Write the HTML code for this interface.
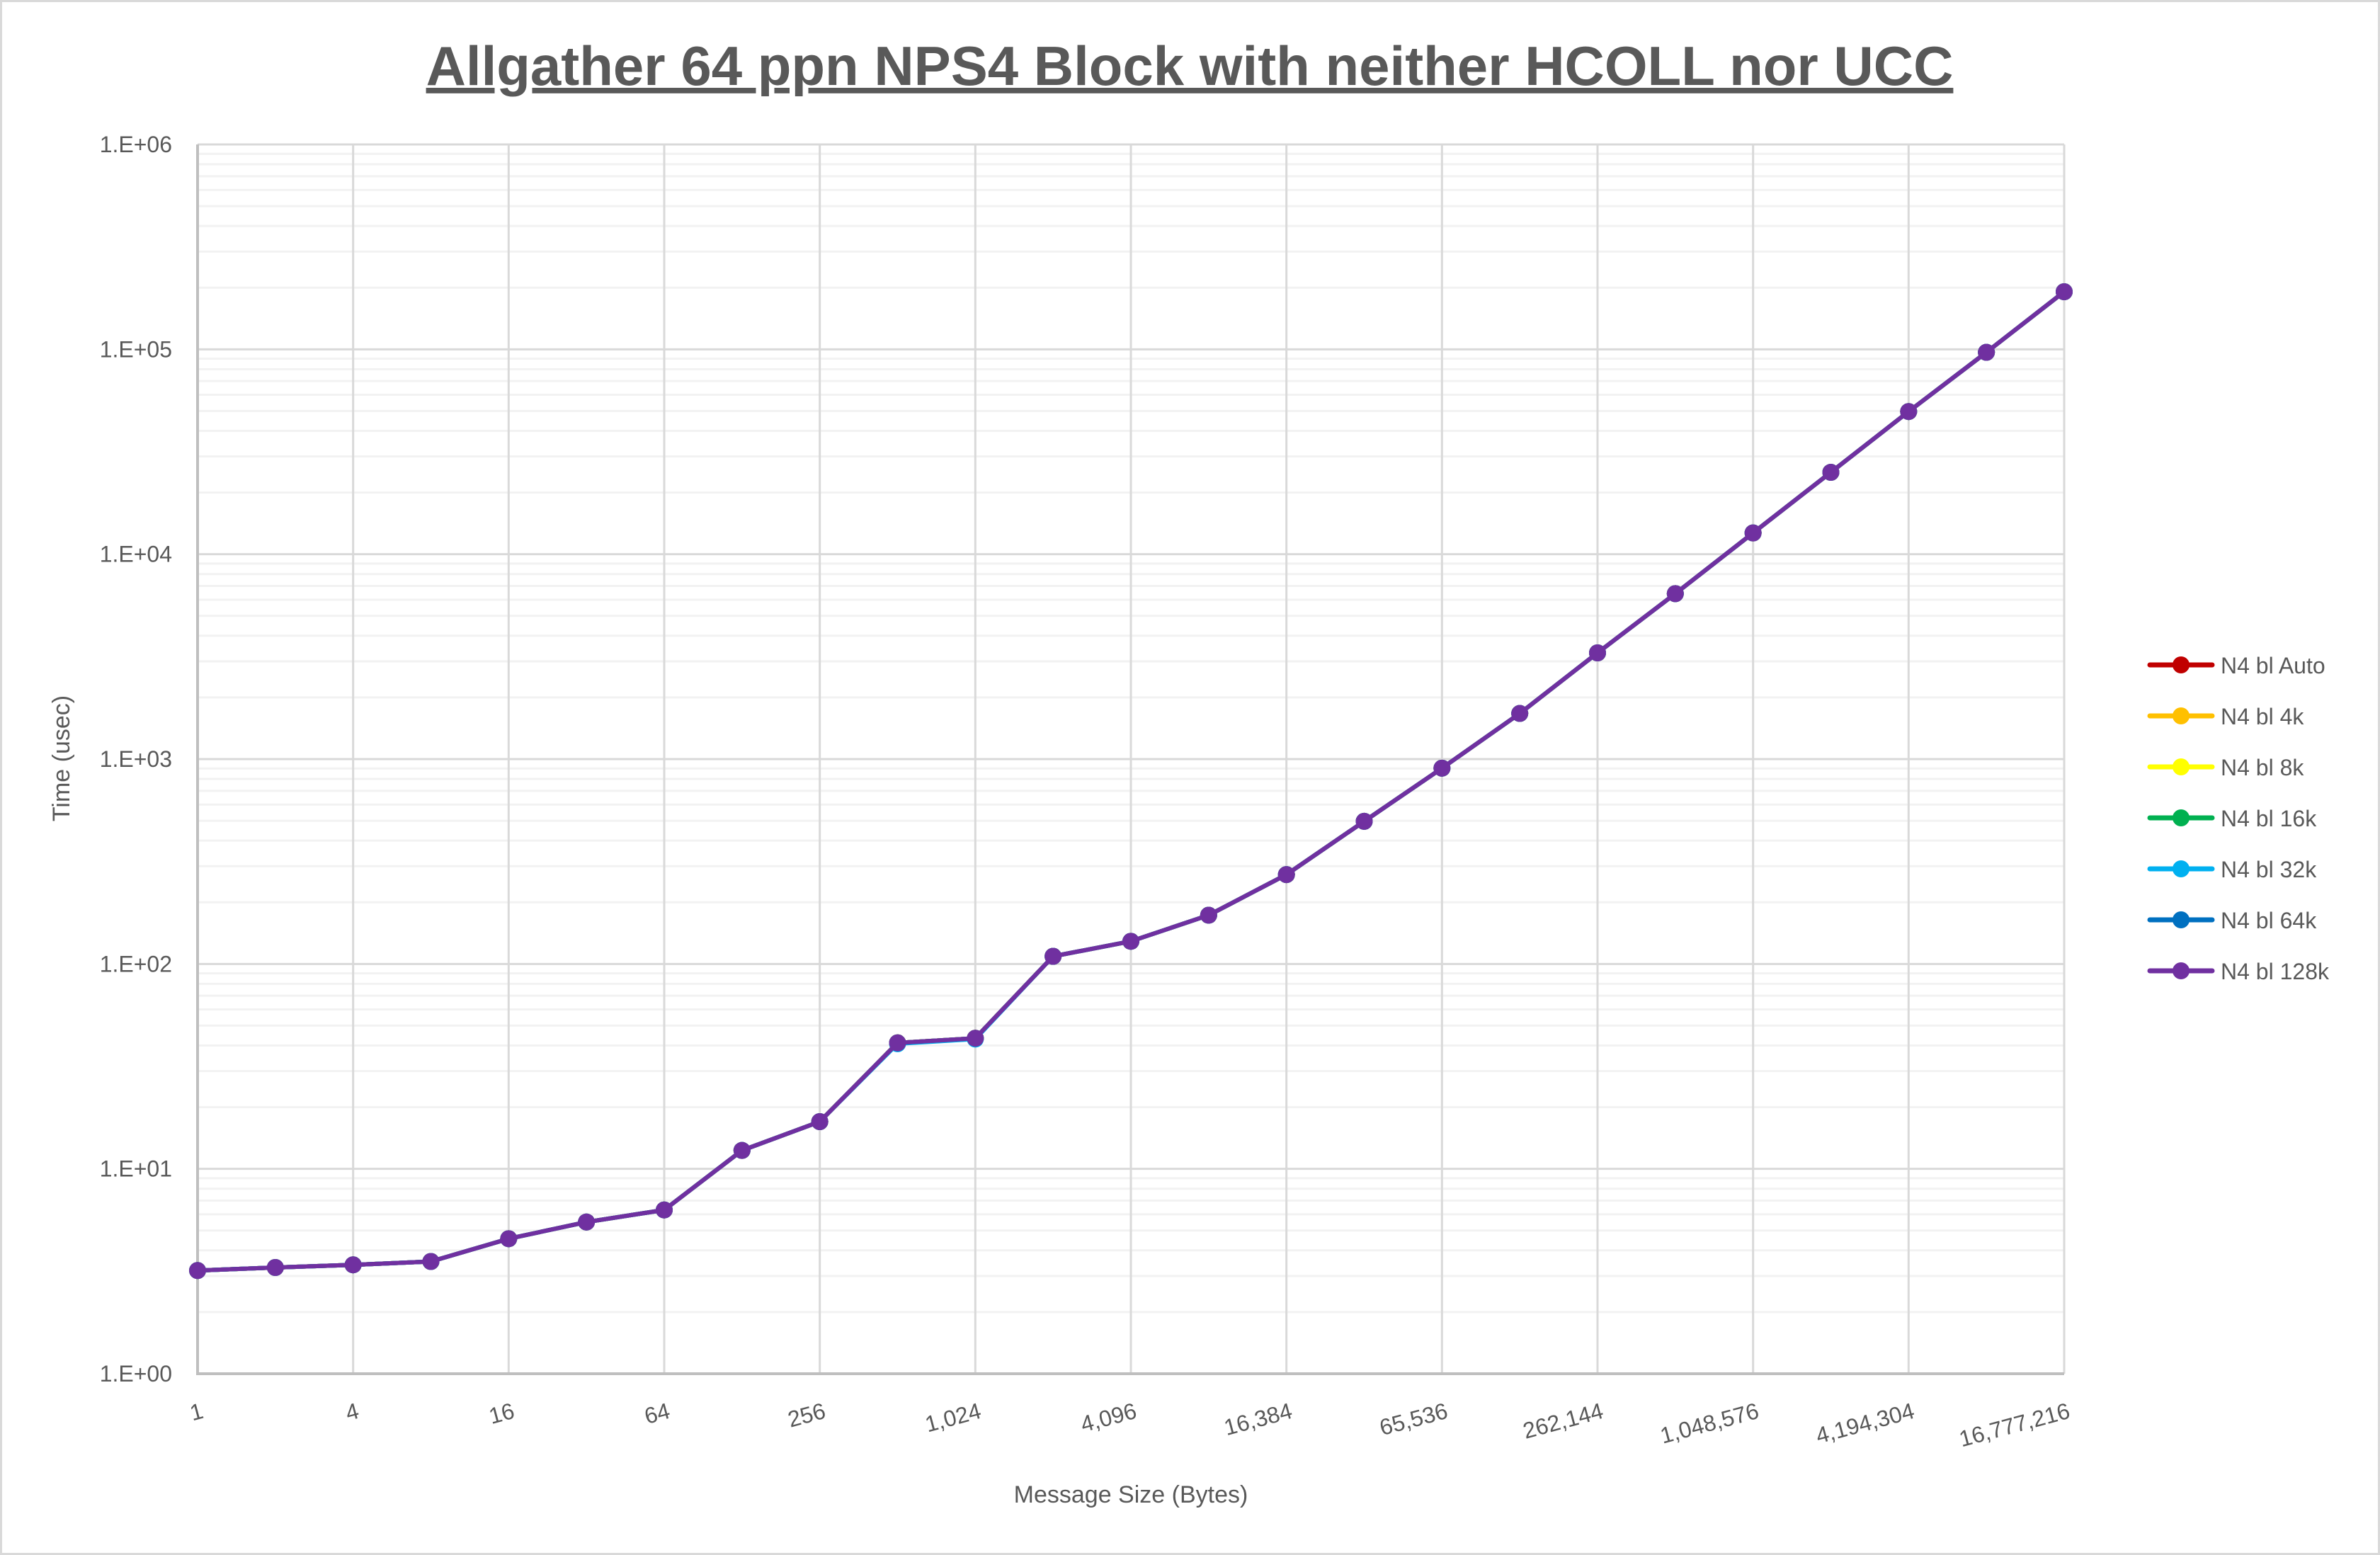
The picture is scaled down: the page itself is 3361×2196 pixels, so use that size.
<!DOCTYPE html>
<html><head><meta charset="utf-8"><style>
html,body{margin:0;padding:0;background:#fff;}
svg{display:block;font-family:"Liberation Sans",sans-serif;}
</style></head><body>
<svg id="chart" width="3361" height="2196" viewBox="0 0 3361 2196">
<rect x="1.5" y="1.5" width="3358" height="2193" fill="#fff" stroke="#d9d9d9" stroke-width="3"/>
<text x="1680" y="120" text-anchor="middle" font-size="78" font-weight="bold" fill="#595959" text-decoration="underline">Allgather 64 ppn NPS4 Block with neither HCOLL nor UCC</text>
<g id="grid"></g>
<g id="axes"></g>
<g id="series"></g>
<text transform="translate(98,1071) rotate(-90)" text-anchor="middle" font-size="34" fill="#595959">Time (usec)</text>
<text x="1597" y="2122" text-anchor="middle" font-size="34" fill="#595959">Message Size (Bytes)</text>
<g id="legend"></g>
</svg>
<script>
const categories = ["1","2","4","8","16","32","64","128","256","512","1,024","2,048","4,096","8,192","16,384","32,768","65,536","131,072","262,144","524,288","1,048,576","2,097,152","4,194,304","8,388,608","16,777,216"];
const yTickLabels = ["1.E+00","1.E+01","1.E+02","1.E+03","1.E+04","1.E+05","1.E+06"];
const seriesNames = ["N4 bl Auto","N4 bl 4k","N4 bl 8k","N4 bl 16k","N4 bl 32k","N4 bl 64k","N4 bl 128k"];
const seriesColors = ["#c00000","#ffc000","#ffff00","#00b050","#00b0f0","#0070c0","#7030a0"];
const valsAuto = [3.19,3.30,3.40,3.53,4.56,5.5,6.3,12.3,17,41.2,43.4,109,129,173,273,497,903,1670,3300,6420,12700,25100,49700,96700,191000];
const vals4k   = [3.19,3.30,3.40,3.53,4.56,5.5,6.3,12.3,17,41.2,43.4,109,129,173,273,497,903,1670,3300,6420,12700,25100,49700,96700,191000];
const vals8k   = [3.19,3.30,3.40,3.53,4.56,5.5,6.3,12.3,17,41.2,43.4,109,129,173,273,497,903,1670,3300,6420,12700,25100,49700,96700,191000];
const vals16k  = [3.19,3.30,3.40,3.53,4.56,5.5,6.3,12.3,17,41.2,43.4,109,129,173,273,497,903,1670,3300,6420,12700,25100,49700,96700,191000];
const vals32k  = [3.19,3.30,3.40,3.53,4.56,5.5,6.3,12.3,17,40.8,43.0,109,129,173,273,497,903,1670,3300,6420,12700,25100,49700,96700,191000];
const vals64k  = [3.19,3.30,3.40,3.53,4.56,5.5,6.3,12.3,17,41.2,43.4,109,129,173,273,497,903,1670,3300,6420,12700,25100,49700,96700,191000];
const vals128k = [3.19,3.30,3.40,3.53,4.56,5.5,6.3,12.3,17,41.2,43.4,109,129,173,273,497,903,1670,3300,6420,12700,25100,49700,96700,191000];
const allVals = [valsAuto,vals4k,vals8k,vals16k,vals32k,vals64k,vals128k];

const NS="http://www.w3.org/2000/svg";
const X0=279,X1=2915,Y0=204,Y1=1940,DEC=6;
function xScale(i){return X0+(X1-X0)*i/(categories.length-1);}
function yScale(v){return Y1-(Y1-Y0)*Math.log10(v)/DEC;}
function mk(tag,attrs,parent){const e=document.createElementNS(NS,tag);for(const k in attrs)e.setAttribute(k,attrs[k]);parent.appendChild(e);return e;}
const grid=document.getElementById('grid'),axes=document.getElementById('axes'),ser=document.getElementById('series'),leg=document.getElementById('legend');

for(let d=0;d<DEC;d++){for(let m=2;m<=9;m++){const y=yScale(m*Math.pow(10,d));
 const l=mk('line',{x1:X0,x2:X1,y1:y,y2:y,stroke:'#f2f2f2','stroke-width':3},grid);
 
 }}
for(let i=0;i<yTickLabels.length;i++){const y=yScale(Math.pow(10,i));
 const l=mk('line',{x1:X0,x2:X1,y1:y,y2:y,stroke:'#d9d9d9','stroke-width':3},grid);
 
 
 const t=mk('text',{x:243,y:y+11,'text-anchor':'end','font-size':32,fill:'#595959'},axes);
 t.textContent=yTickLabels[i];
 
 }
for(let i=0;i<categories.length;i+=2){const x=xScale(i);
 const l=mk('line',{x1:x,x2:x,y1:Y0,y2:Y1,stroke:'#d9d9d9','stroke-width':3},grid);
 
 
 const t=mk('text',{transform:`translate(${x+10},${Y1+62}) rotate(-15)`,'text-anchor':'end','font-size':32,fill:'#595959'},axes);
 t.textContent=categories[i];
 
 }
const ax=mk('path',{d:`M${X0},${Y0}V${Y1}H${X1}`,fill:'none',stroke:'#bfbfbf','stroke-width':4},axes);



allVals.forEach((vals,s)=>{
 const g=mk('g',{},ser);
 
 
 const pts=vals.map((v,i)=>xScale(i)+','+yScale(v)).join(' ');
 const pl=mk('polyline',{points:pts,fill:'none',stroke:seriesColors[s],'stroke-width':6,'stroke-linejoin':'round'},g);
 
 
 vals.forEach((v,i)=>{const c=mk('circle',{cx:xScale(i),cy:yScale(v),r:12,fill:seriesColors[s]},g);
  
  });
 const ly=939+72*s;
 const lg=mk('g',{},leg);
 
 
 mk('line',{x1:3036,x2:3124,y1:ly,y2:ly,stroke:seriesColors[s],'stroke-width':7,'stroke-linecap':'round'},lg);
 mk('circle',{cx:3080,cy:ly,r:12,fill:seriesColors[s]},lg);
 const t=mk('text',{x:3136,y:ly+12,'font-size':32,fill:'#595959'},lg);
 t.textContent=seriesNames[s];
});
</script>
</body></html>
